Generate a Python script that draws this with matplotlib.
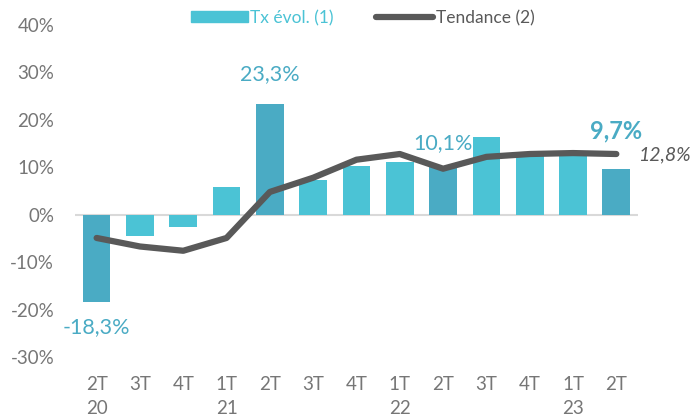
import matplotlib.pyplot as plt
from matplotlib.lines import Line2D
from matplotlib.patches import Patch

# donnees
trimestres = ['2T\n20', '3T', '4T', '1T\n21', '2T', '3T', '4T', '1T\n22', '2T', '3T', '4T', '1T\n23', '2T']
tx_evol = [-18.3, -4.4, -2.6, 5.9, 23.3, 7.4, 10.3, 11.2, 10.1, 16.4, 12.3, 12.5, 9.7]
tendance = [-4.9, -6.7, -7.6, -4.9, 4.8, 7.8, 11.6, 12.8, 9.7, 12.2, 12.8, 13.0, 12.8]
fonce = [0, 4, 8, 12]  # barres des 2T en bleu plus fonce

bleu_clair = '#4BC3D5'
bleu_fonce = '#4AABC4'
gris_ligne = '#595959'
gris_texte = '#767676'

plt.rcParams['font.family'] = ['Lato', 'DejaVu Sans']

fig = plt.figure(figsize=(6.93, 4.19), dpi=100)
ax = fig.add_axes([0.1082, 0.148, 0.8124, 0.7923])

x = list(range(len(trimestres)))
couleurs = [bleu_fonce if i in fonce else bleu_clair for i in x]
ax.bar(x, tx_evol, width=0.64, color=couleurs, zorder=2)
ax.plot(x, tendance, color=gris_ligne, linewidth=4.5, solid_capstyle='round',
        solid_joinstyle='round', zorder=3)
ax.axhline(0, color='#D9D9D9', linewidth=1.5, zorder=1)

ax.set_xlim(-0.5, len(x) - 0.5)
ax.set_ylim(-30, 40)
ax.set_yticks(range(-30, 41, 10))
ax.set_yticklabels([f'{v}%' for v in range(-30, 41, 10)])
ax.set_xticks(x)
ax.set_xticklabels(trimestres, linespacing=1.45, va='top')
ax.tick_params(length=0, labelsize=13.5, colors=gris_texte)
ax.tick_params(axis='y', pad=15)
ax.tick_params(axis='x', pad=14)
for s in ax.spines.values():
    s.set_visible(False)

# etiquettes de valeurs
ax.text(4, 29.6, '23,3%', ha='center', va='center', color=bleu_fonce, fontsize=15.5)
ax.text(0, -23.8, '-18,3%', ha='center', va='center', color=bleu_fonce, fontsize=15.5)
ax.text(8, 15.1, '10,1%', ha='center', va='center', color=bleu_fonce, fontsize=15.5)
ax.text(12, 17.7, '9,7%', ha='center', va='center', color=bleu_fonce, fontsize=17,
        fontweight='bold')
ax.text(12.5, 12.6, '12,8%', ha='left', va='center', color='#595959', fontsize=14,
        style='italic', clip_on=False)

handles = [Patch(color=bleu_clair), Line2D([], [], color=gris_ligne, linewidth=4.5,
                                           solid_capstyle='round')]
leg = fig.legend(handles, ['Tx évol. (1)', 'Tendance (2)'], loc='center',
                 bbox_to_anchor=(0.523, 0.957), ncol=2, frameon=False, fontsize=12.5,
                 handlelength=3.3, handleheight=0.6, handletextpad=0.15, columnspacing=2.4)
leg.get_texts()[0].set_color(bleu_clair)
leg.get_texts()[1].set_color(gris_ligne)

fig.savefig('out.png', dpi=100)
